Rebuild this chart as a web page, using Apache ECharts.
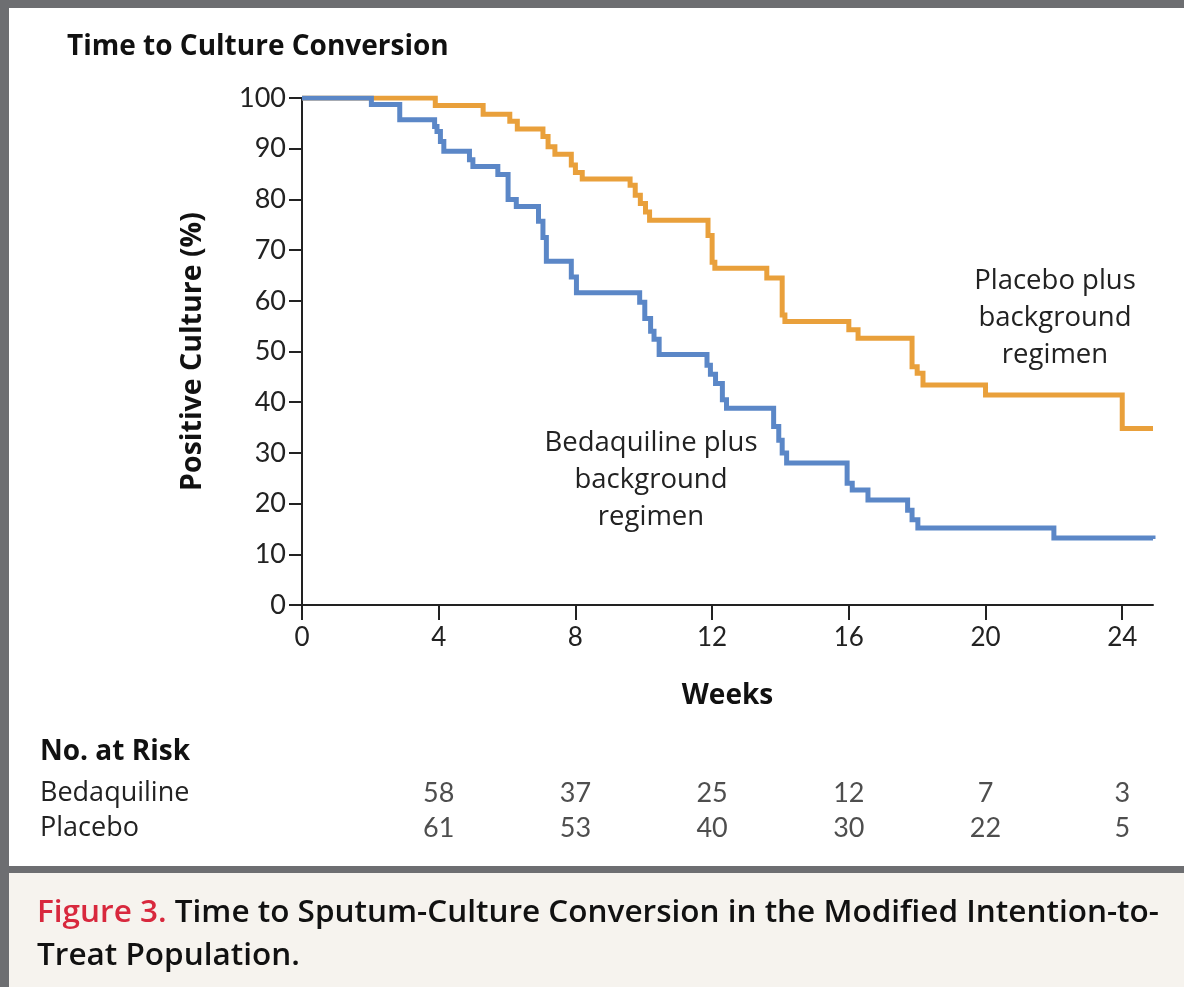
<!DOCTYPE html>
<html>
<head>
<meta charset="utf-8">
<script src="https://cdn.jsdelivr.net/npm/echarts@6/dist/echarts.min.js"></script>
<style>
html,body{margin:0;padding:0;background:#fff;}
#chart{width:1184px;height:987px;}
</style>
</head>
<body>
<div id="chart"></div>
<script>
// Kaplan-Meier step points: [week, % positive culture after the drop]
const bedaquilineCurve = [
  [0,100],[2.03,98.7],[2.86,95.7],[3.88,94.4],[3.95,93.4],[4.05,91.4],[4.15,89.5],
  [4.9,87.8],[5.0,86.5],[5.73,84.9],[6.03,80.0],[6.27,78.6],[6.92,75.7],[7.05,72.5],
  [7.15,67.8],[7.88,64.7],[8.03,61.6],[9.88,59.7],[10.03,56.5],[10.2,54.0],[10.3,52.4],
  [10.45,49.4],[11.85,47.3],[11.95,45.5],[12.1,43.7],[12.3,40.5],[12.42,38.8],
  [13.8,35.2],[13.95,32.5],[14.05,30.0],[14.18,28.0],[15.95,24.0],[16.1,22.7],
  [16.56,20.7],[17.72,18.7],[17.85,16.8],[18.02,15.2],[22.0,13.2],[24.9,13.0]
];
const placeboCurve = [
  [0,100],[3.9,98.5],[5.3,96.8],[6.08,95.4],[6.3,93.9],[7.05,92.4],[7.2,90.4],
  [7.4,88.9],[7.88,86.8],[8.0,85.3],[8.2,84.0],[9.6,82.8],[9.75,80.8],[9.9,79.2],
  [10.05,77.5],[10.17,75.9],[11.88,72.9],[12.0,67.6],[12.08,66.4],[13.6,64.5],
  [14.05,57.2],[14.13,55.9],[16.0,54.3],[16.27,52.6],[17.85,47.0],[18.0,45.7],
  [18.17,43.4],[20.0,41.4],[24.0,34.8],[24.9,34.8]
];
const xTicks = [0,4,8,12,16,20,24];
const yTicks = [0,10,20,30,40,50,60,70,80,90,100];
const riskGroups = ['Bedaquiline','Placebo'];
const riskWeeks = [4,8,12,16,20,24];
const bedaquilineRisk = [58,37,25,12,7,3];
const placeboRisk = [61,53,40,30,22,5];

const FONT = '"Open Sans", Lato, sans-serif';
const TICKFONT = 'Lato, "Open Sans", sans-serif';
const BLUE = '#5b87c7';
const ORANGE = '#e9a03b';
const GRID_LEFT = 302, GRID_RIGHT = 31;

const riskData = [];
riskWeeks.forEach((w,i)=>{
  riskData.push([w, riskGroups[0], bedaquilineRisk[i]]);
  riskData.push([w, riskGroups[1], placeboRisk[i]]);
});

const chart = echarts.init(document.getElementById('chart'), null, {renderer:'canvas'});
const option = {
  backgroundColor:'#ffffff',
  animation:false,
  textStyle:{fontFamily:FONT},
  title:[
    {text:'Time to Culture Conversion', left:67, top:33, padding:0,
     textStyle:{fontFamily:FONT,fontSize:28,fontWeight:'bold',color:'#111'}},
    {text:'No. at Risk', left:40, top:738, padding:0,
     textStyle:{fontFamily:FONT,fontSize:28,fontWeight:'bold',color:'#111'}},
    {text:'{r|Figure 3.} Time to Sputum-Culture Conversion in the Modified Intention-to-\nTreat Population.',
     left:37, top:892, padding:0,
     textStyle:{fontFamily:FONT,fontSize:31.5,fontWeight:600,color:'#111',lineHeight:43,
       rich:{r:{fontFamily:FONT,fontSize:31.5,fontWeight:600,color:'#d8283d'}}}}
  ],
  graphic:[
    {type:'rect', z:-10, shape:{x:9,y:873,width:1175,height:114}, style:{fill:'#f6f3ee'}},
    {type:'rect', z:10, shape:{x:0,y:0,width:1184,height:8}, style:{fill:'#6d6e71'}},
    {type:'rect', z:10, shape:{x:0,y:0,width:9,height:987}, style:{fill:'#6d6e71'}},
    {type:'rect', z:10, shape:{x:0,y:866,width:1184,height:7}, style:{fill:'#6d6e71'}},
    {type:'text', z:5,
     style:{text:'Placebo plus\nbackground\nregimen', x:1055, y:263, align:'center',
       fontFamily:FONT, fontSize:27.5, lineHeight:37, fill:'#222'}},
    {type:'text', z:5,
     style:{text:'Bedaquiline plus\nbackground\nregimen', x:651, y:425, align:'center',
       fontFamily:FONT, fontSize:27.5, lineHeight:37, fill:'#222'}}
  ],
  grid:[
    {left:GRID_LEFT, right:GRID_RIGHT, top:98, bottom:382, containLabel:false},
    {left:GRID_LEFT, right:GRID_RIGHT, top:775.5, height:70, containLabel:false}
  ],
  xAxis:[
    {type:'value', gridIndex:0, min:0, max:24.9, interval:4,
     name:'Weeks', nameLocation:'middle', nameGap:77,
     nameTextStyle:{fontFamily:FONT,fontSize:28,fontWeight:'bold',color:'#111'},
     axisLine:{show:true, onZero:false, lineStyle:{color:'#222',width:2}},
     axisTick:{show:true, length:15, customValues:xTicks, lineStyle:{color:'#222',width:2}},
     axisLabel:{customValues:xTicks, margin:20, fontFamily:TICKFONT, fontSize:26, color:'#222'},
     splitLine:{show:false}},
    {type:'value', gridIndex:1, min:0, max:24.9, show:false}
  ],
  yAxis:[
    {type:'value', gridIndex:0, min:0, max:100, interval:10,
     name:'Positive Culture (%)', nameLocation:'middle', nameGap:95,
     nameTextStyle:{fontFamily:FONT,fontSize:28.5,fontWeight:'bold',color:'#111'},
     axisLine:{show:true, lineStyle:{color:'#222',width:2}},
     axisTick:{show:true, length:13, lineStyle:{color:'#222',width:2}},
     axisLabel:{margin:16, fontFamily:TICKFONT, fontSize:27, color:'#222'},
     splitLine:{show:false}},
    {type:'category', gridIndex:1, data:riskGroups, inverse:true,
     axisLine:{show:false}, axisTick:{show:false}, splitLine:{show:false},
     axisLabel:{interval:0, hideOverlap:false, align:'left', margin:GRID_LEFT-40,
       fontFamily:FONT, fontSize:27, color:'#222'}}
  ],
  series:[
    {name:'Placebo plus background regimen', type:'line', step:'end',
     xAxisIndex:0, yAxisIndex:0, data:placeboCurve, showSymbol:false, symbol:'none',
     lineStyle:{color:ORANGE, width:5, join:'miter'}, z:2},
    {name:'Bedaquiline plus background regimen', type:'line', step:'end',
     xAxisIndex:0, yAxisIndex:0, data:bedaquilineCurve, showSymbol:false, symbol:'none',
     lineStyle:{color:BLUE, width:5, join:'miter'}, z:3},
    {name:'No. at risk', type:'scatter', xAxisIndex:1, yAxisIndex:1,
     data:riskData, symbolSize:1, itemStyle:{color:'rgba(0,0,0,0)'},
     label:{show:true, position:'inside', formatter:p=>String(p.value[2]),
       fontFamily:TICKFONT, fontSize:27, color:'#222'}}
  ]
};
chart.setOption(option);
</script>
</body>
</html>
